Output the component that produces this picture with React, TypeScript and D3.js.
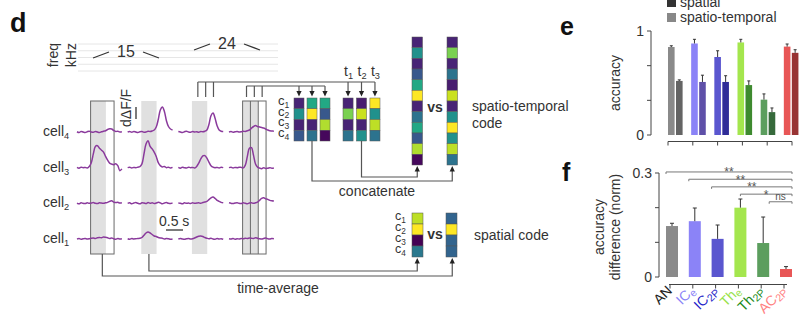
import React from "react";
import * as d3 from "d3";

const FONT = "'Liberation Sans', Arial, Helvetica, sans-serif";
const TXT = "#333333";
const LINE = "#555555";

// ---------------- panel d : stimulus
const freqLabels = ["15", "24"];
const freqLines = [0, 1, 2, 3, 4];

// ---------------- panel d : calcium traces (normalised dF/F), one sample every 0.06 s
const sampleStep = 0.06;
const cellSubscripts = ["4", "3", "2", "1"];
const cell4Traces = [
  [0.01, -0.02, 0.02, 0, -0.02, 0.01, 0.03, 0, -0.01, 0.02, 0, -0.02, 0.01, 0.03, 0.05, 0.1, 0.13, 0.12, 0.06, 0.02, 0.03, 0, 0.01],
  [0, 0.02, -0.01, 0.02, 0, -0.02, 0.01, 0.02, -0.01, 0, 0.03, 0.02, 0.04, 0.08, 0.2, 0.5, 0.88, 1.0, 0.82, 0.45, 0.22, 0.12, 0.08],
  [0.02, 0, -0.02, 0.01, 0.03, 0, -0.01, 0.02, 0, 0.01, -0.01, 0.02, 0.01, 0.03, 0.08, 0.3, 0.65, 0.76, 0.55, 0.25, 0.08, 0.03, 0.02],
  [0, 0.02, -0.01, 0.01, 0.02, 0, 0.01, 0.03, 0.02, 0.05, 0.08, 0.15, 0.22, 0.26, 0.22, 0.2, 0.18, 0.16, 0.12, 0.08, 0.05, 0.04, 0.03],
];
const cell3Traces = [
  [0.01, -0.02, 0.02, 0, 0.01, -0.01, 0.05, 0.2, 0.55, 0.85, 0.88, 0.78, 0.7, 0.62, 0.45, 0.3, 0.18, 0.14, 0.12, 0.16, 0.08, -0.12, -0.05],
  [0, 0.02, -0.01, 0.01, 0, 0.02, 0.04, 0.15, 0.55, 0.95, 1.08, 0.85, 0.75, 0.62, 0.45, 0.2, 0.08, 0.03, 0.05, 0, 0.02, -0.01, 0.01],
  [0.01, -0.02, 0.02, 0, -0.01, 0.02, 0, 0.01, -0.01, 0.05, 0.18, 0.35, 0.47, 0.48, 0.38, 0.22, 0.08, 0.02, 0, 0.01, -0.01, 0.02, 0],
  [0, 0.02, -0.01, 0.01, 0, 0.02, 0.01, -0.01, 0.1, 0.45, 0.78, 0.8, 0.5, 0.15, 0.02, -0.02, -0.04, 0, -0.03, -0.02, 0, -0.02, -0.01],
];
const cell2Traces = [
  [0.01, -0.02, 0.02, 0, -0.01, 0.02, 0, 0.01, 0.03, 0, -0.01, 0.02, 0.01, 0, 0.02, 0.04, 0.08, 0.1, 0.05, 0.03, 0.04, 0.01, 0.02],
  [0, 0.02, -0.02, 0.01, 0.03, 0, -0.02, 0.02, 0.01, -0.01, 0.03, 0, 0.02, -0.01, 0.01, 0.04, 0.02, -0.02, 0.01, 0.03, 0, -0.01, 0.02],
  [0.01, 0, -0.02, 0.02, 0, 0.01, -0.01, 0.02, 0, 0.01, 0.02, 0, 0.03, 0.05, 0.08, 0.15, 0.22, 0.25, 0.2, 0.12, 0.08, 0.04, 0.02],
  [0.02, 0, -0.01, 0.01, 0.02, 0, -0.01, 0.02, 0, -0.02, 0.01, 0.02, 0, 0.02, 0.05, 0.12, 0.2, 0.22, 0.18, 0.16, 0.12, 0.1, 0.09],
];
const cell1Traces = [
  [0, 0.02, -0.01, 0.01, 0.02, 0, 0.01, 0.03, 0.04, 0.02, 0.05, 0.06, 0.05, 0.08, 0.07, 0.05, 0.02, 0.04, 0.01, -0.01, 0.02, 0, 0.01],
  [0.01, -0.01, 0.02, 0, 0.01, 0.02, 0.03, 0.06, 0.15, 0.24, 0.28, 0.24, 0.18, 0.12, 0.1, 0.06, 0.04, 0.03, 0, 0.02, 0.01, -0.01, 0],
  [0, 0.02, 0, -0.01, 0.01, 0.02, 0, 0.01, 0.04, 0.08, 0.11, 0.12, 0.1, 0.06, 0.03, 0.01, 0.03, 0, -0.01, 0.02, 0, 0.01, -0.01],
  [0.01, 0, 0.02, -0.01, 0.01, 0, 0.02, 0.01, 0.03, 0.02, 0.04, 0.03, 0.02, 0.05, 0.03, 0.01, 0, 0.02, 0.04, 0.01, 0, 0.02, 0.01],
];
const allTraces = [cell4Traces, cell3Traces, cell2Traces, cell1Traces];
const stimWindow = [0.4, 0.85]; // s
const binEdges = [0.4, 0.63, 0.86, 1.09]; // s

// ---------------- panel d : population codes (viridis values)
const matrixA = [
  [0.1, 0.5, 0.1, 0.27],
  [0.6, 1.0, 0.1, 0.38],
  [0.6, 0.27, 0.88, 0.02],
];
const matrixB = [
  [0.1, 0.8, 0.1, 0.38],
  [0.08, 0.92, 0.1, 0.5],
  [1.0, 0.5, 0.9, 0.38],
];
const spatialA = [0.9, 1.0, 0.0, 0.4];
const spatialB = [0.32, 1.0, 0.32, 0.32];
const cLabels = ["1", "2", "3", "4"];
const tLabels = ["1", "2", "3"];

// ---------------- panels e, f
const regionMain = ["AN", "IC", "IC", "Th", "Th", "AC"];
const regionSub = ["", "e", "2P", "e", "2P", "2P"];
const regions = regionMain.map((m, i) => m + regionSub[i]);
const spatioTemporalAcc = [0.846, 0.88, 0.75, 0.89, 0.34, 0.85];
const spatioTemporalErr = [0.012, 0.04, 0.06, 0.03, 0.055, 0.025];
const spatialAcc = [0.52, 0.51, 0.51, 0.48, 0.22, 0.79];
const spatialErr = [0.01, 0.065, 0.06, 0.04, 0.04, 0.03];
const lightColors = ["#8a8a8a", "#8b83f7", "#5a56cf", "#a4e64e", "#5c9e5e", "#e85656"];
const darkColors = ["#646464", "#5e50a8", "#2f2c98", "#3e8a2f", "#366a3b", "#983333"];
const labelColors = ["#222222", "#8b83f7", "#1e1ec8", "#98e24a", "#1b8a1b", "#ff8282"];
const accDiff = [0.147, 0.161, 0.11, 0.2, 0.098, 0.023];
const accDiffErr = [0.008, 0.038, 0.04, 0.025, 0.075, 0.007];
const sigFrom = [0, 1, 2, 3, 4];
const sigLevel = [0.303, 0.282, 0.26, 0.239, 0.217];
const sigText = ["**", "**", "**", "*", "ns"];
const sigAnchor = [-1, -1, -1, 0, 1];

const viridis = (v: number) => d3.interpolateViridis(v);

function Sub({ main, sub, x, y, size = 14, fill = TXT, anchor = "start" as const }: any) {
  return (
    <text x={x} y={y} fontSize={size} fill={fill} textAnchor={anchor} fontFamily={FONT}>
      {main}
      {sub ? (
        <tspan fontSize={size * 0.66} dy={size * 0.22}>
          {sub}
        </tspan>
      ) : null}
    </text>
  );
}

const arrowUp = (x: number, tip: number) => `M${x},${tip} l-2.6,5.5 l5.2,0 z`;
const arrowDown = (x: number, tip: number) => `M${x},${tip} l-2.6,-5.5 l5.2,0 z`;

export default function App() {
  // ---------- panel d layout scales
  const trialX = d3.scaleLinear().domain([0, 3]).range([77, 229]);
  const timeX = d3.scaleLinear().domain([0, 1]).range([0, 34]);
  const rowY = d3.scalePoint<string>().domain(cellSubscripts).range([132, 239]);
  const ampY = d3.scaleLinear().domain([0, 1]).range([0, -25]);
  const boxTop = 101;
  const boxBottom = 254;

  const traceLine = (trial: number, base: number) =>
    d3
      .line<number>()
      .x((_, i) => trialX(trial) + timeX(i * sampleStep))
      .y((v) => base + ampY(v))
      .curve(d3.curveCatmullRom.alpha(0.5));

  const freqY = d3.scaleLinear().domain([0, 4]).range([44, 71]);
  const freqX = d3.scaleLinear().domain([0, 1]).range([78, 278]);

  const matAX = d3.scaleBand<number>().domain([0, 1, 2]).range([294, 330]).paddingInner(0.23);
  const matBX = d3.scaleBand<number>().domain([0, 1, 2]).range([343, 380]).paddingInner(0.25);
  const matY = d3.scaleBand<number>().domain([0, 1, 2, 3]).range([98, 141]);
  const vecY = d3.scaleBand<number>().domain(d3.range(12)).range([37, 165]);
  const spY = d3.scaleBand<number>().domain([0, 1, 2, 3]).range([213, 257]);
  const vecAX = 412;
  const vecBX = 447;
  const vecW = 10.5;

  const binCenters = binEdges.slice(0, 3).map((e, i) => (e + binEdges[i + 1]) / 2);
  const group1 = binCenters.map((t) => trialX(2) + timeX(t) + 2);
  const group2 = binCenters.map((t) => trialX(3) + timeX(t));
  const colCenterA = (j: number) => matAX(j)! + matAX.bandwidth() / 2;
  const colCenterB = (j: number) => matBX(j)! + matBX.bandwidth() / 2;

  // ---------- panel e scales
  const xe = d3.scaleBand<string>().domain(regions).range([668, 807]);
  const xeTick = d3.scalePoint<string>().domain(regions).range([668, 792]);
  const ye = d3.scaleLinear().domain([0, 1]).range([135, 31]);
  const eBarW = 6.6;
  const eTicks = d3.range(4).map((i) => i / 3);

  // ---------- panel f scales
  const xf = d3.scalePoint<string>().domain(regions).range([672, 786]);
  const yf = d3.scaleLinear().domain([0, 0.3]).range([277, 173]);
  const fBarW = 12;
  const fTicks = [0, 0.1, 0.2, 0.3];

  const vecA = matrixA.flat();
  const vecB = matrixB.flat();

  return (
    <svg
      width={801}
      height={316}
      style={{ position: "absolute", left: 0, top: 0, background: "#fff" }}
      fontFamily={FONT}
    >
      {/* ================= panel d ================= */}
      <text x={10} y={32} fontSize={27} fontWeight="bold" fill="#111">d</text>

      {/* stimulus */}
      {freqLines.map((i) => (
        <line key={i} x1={freqX(0)} x2={freqX(1)} y1={freqY(i)} y2={freqY(i)} stroke="#e6e6e6" strokeWidth={1} />
      ))}
      <text transform="translate(58,43) rotate(-90)" textAnchor="end" fontSize={14} fill={TXT}>freq</text>
      <text transform="translate(76,43) rotate(-90)" textAnchor="end" fontSize={14} fill={TXT}>kHz</text>
      {freqLabels.map((lab, i) => {
        const cx = i === 0 ? 126 : 227;
        const cy = i === 0 ? 55 : 47;
        return (
          <g key={lab}>
            <text x={cx} y={cy + 2} textAnchor="middle" fontSize={16} fill={TXT}>{lab}</text>
            <line x1={cx - 33} y1={cy + 3} x2={cx - 17} y2={cy - 3} stroke={TXT} strokeWidth={1.2} />
            <line x1={cx + 17} y1={cy - 3} x2={cx + 33} y2={cy + 3} stroke={TXT} strokeWidth={1.2} />
          </g>
        );
      })}

      {/* stimulus shading */}
      {[0, 1, 2, 3].map((trial) => (
        <rect
          key={trial}
          x={trialX(trial) + timeX(stimWindow[0])}
          y={boxTop}
          width={timeX(stimWindow[1]) - timeX(stimWindow[0])}
          height={boxBottom - boxTop}
          fill="#e0e0e0"
        />
      ))}
      {/* time windows */}
      {[0, 3].map((trial) => (
        <rect
          key={trial}
          x={trialX(trial) + timeX(binEdges[0])}
          y={boxTop}
          width={timeX(binEdges[3]) - timeX(binEdges[0])}
          height={boxBottom - boxTop}
          fill="none"
          stroke="#6a6a6a"
          strokeWidth={1}
        />
      ))}
      {[1, 2].map((k) => (
        <line
          key={k}
          x1={trialX(3) + timeX(binEdges[k])}
          x2={trialX(3) + timeX(binEdges[k])}
          y1={boxTop}
          y2={boxBottom}
          stroke="#6a6a6a"
          strokeWidth={1}
        />
      ))}

      {/* traces */}
      {allTraces.map((cellTr, ci) =>
        cellTr.map((tr, ti) => (
          <path
            key={`${ci}-${ti}`}
            d={traceLine(ti, rowY(cellSubscripts[ci])!)(tr) || ""}
            fill="none"
            stroke="#8a3a9c"
            strokeWidth={1.5}
          />
        ))
      )}
      {cellSubscripts.map((s) => (
        <Sub key={s} main="cell" sub={s} x={43} y={rowY(s)! + 4} size={14} />
      ))}

      {/* scale bars */}
      <text transform="translate(131,127) rotate(-90)" fontSize={14} fill={TXT}>dΔF/F</text>
      <line x1={136} x2={136} y1={107} y2={119} stroke={TXT} strokeWidth={1.3} />
      <text x={159} y={226} fontSize={14} fill={TXT}>0.5 s</text>
      <line x1={166} x2={166 + timeX(0.5)} y1={230} y2={230} stroke={TXT} strokeWidth={1.3} />

      {/* top connectors */}
      <path d={`M${group1[0]},82 H${colCenterB(2)}`} fill="none" stroke={LINE} strokeWidth={1.2} />
      {group1.map((x, i) => (
        <line key={i} x1={x} x2={x} y1={82} y2={97} stroke={LINE} strokeWidth={1.2} />
      ))}
      <path d={`M${group2[0]},86 H${colCenterA(2)}`} fill="none" stroke={LINE} strokeWidth={1.2} />
      {group2.map((x, i) => (
        <line key={i} x1={x} x2={x} y1={86} y2={97} stroke={LINE} strokeWidth={1.2} />
      ))}
      {[0, 1, 2].map((j) => (
        <g key={j}>
          <line x1={colCenterA(j)} x2={colCenterA(j)} y1={86} y2={91} stroke={LINE} strokeWidth={1.2} />
          <path d={arrowDown(colCenterA(j), 96.5)} fill="#222" />
          <line x1={colCenterB(j)} x2={colCenterB(j)} y1={82} y2={91} stroke={LINE} strokeWidth={1.2} />
          <path d={arrowDown(colCenterB(j), 96.5)} fill="#222" />
          <Sub main="t" sub={tLabels[j]} x={colCenterB(j) - 4} y={76} size={14} />
        </g>
      ))}

      {/* matrices */}
      {[matrixA, matrixB].map((mat, mi) =>
        mat.map((col, j) =>
          col.map((v, r) => (
            <rect
              key={`${mi}-${j}-${r}`}
              x={(mi === 0 ? matAX(j) : matBX(j))!}
              y={matY(r)!}
              width={mi === 0 ? matAX.bandwidth() : matBX.bandwidth()}
              height={matY.bandwidth()}
              fill={viridis(v)}
              stroke="#555"
              strokeWidth={0.5}
            />
          ))
        )
      )}
      {cLabels.map((c, r) => (
        <Sub key={c} main="c" sub={c} x={278} y={matY(r)! + matY.bandwidth() / 2 + 1.5} size={13} />
      ))}

      {/* spatio-temporal vectors */}
      {[vecA, vecB].map((vec, vi) =>
        vec.map((v, r) => (
          <rect
            key={`${vi}-${r}`}
            x={vi === 0 ? vecAX : vecBX}
            y={vecY(r)!}
            width={vecW}
            height={vecY.bandwidth()}
            fill={viridis(v)}
            stroke="#555"
            strokeWidth={0.5}
          />
        ))
      )}
      <text x={435} y={112} textAnchor="middle" fontSize={14} fontWeight="bold" fill={TXT}>vs</text>
      <text x={472} y={111} fontSize={14} fill={TXT}>spatio-temporal</text>
      <text x={472} y={128} fontSize={14} fill={TXT}>code</text>

      {/* concatenate connectors */}
      <path d={`M${colCenterA(1)},141 V181 H${vecBX + vecW / 2} V171`} fill="none" stroke={LINE} strokeWidth={1.2} />
      <path d={`M${colCenterB(1)},141 V177 H${vecAX + vecW / 2} V171`} fill="none" stroke={LINE} strokeWidth={1.2} />
      <path d={arrowUp(vecAX + vecW / 2, 166)} fill="#222" />
      <path d={arrowUp(vecBX + vecW / 2, 166)} fill="#222" />
      <text x={377} y={196} textAnchor="middle" fontSize={14} fill={TXT}>concatenate</text>

      {/* spatial vectors */}
      {[spatialA, spatialB].map((vec, vi) =>
        vec.map((v, r) => (
          <rect
            key={`s${vi}-${r}`}
            x={vi === 0 ? vecAX : vecBX - 1}
            y={spY(r)!}
            width={vecW + 0.5}
            height={spY.bandwidth()}
            fill={viridis(v)}
            stroke="#555"
            strokeWidth={0.5}
          />
        ))
      )}
      {cLabels.map((c, r) => (
        <Sub key={c} main="c" sub={c} x={395} y={spY(r)! + spY.bandwidth() / 2 + 1.5} size={12.5} />
      ))}
      <text x={435} y={239} textAnchor="middle" fontSize={14} fontWeight="bold" fill={TXT}>vs</text>
      <text x={474} y={240} fontSize={14} fill={TXT}>spatial code</text>

      {/* time-average connectors */}
      <path
        d={`M${trialX(0) + timeX((binEdges[0] + binEdges[3]) / 2)},${boxBottom} V276 H${vecBX + vecW / 2} V263`}
        fill="none"
        stroke={LINE}
        strokeWidth={1.2}
      />
      <path
        d={`M${trialX(1) + timeX((stimWindow[0] + stimWindow[1]) / 2)},${boxBottom} V271 H${vecAX + vecW / 2} V263`}
        fill="none"
        stroke={LINE}
        strokeWidth={1.2}
      />
      <path d={arrowUp(vecAX + vecW / 2, 258)} fill="#222" />
      <path d={arrowUp(vecBX + vecW / 2, 258)} fill="#222" />
      <text x={278} y={293} textAnchor="middle" fontSize={14} fill={TXT}>time-average</text>

      {/* ================= panel e ================= */}
      <text x={560} y={35} fontSize={25} fontWeight="bold" fill="#111">e</text>
      <rect x={667} y={-2} width={9} height={9} fill="#333" />
      <text x={680} y={6.5} fontSize={14} fill={TXT}>spatial</text>
      <rect x={667} y={13} width={9} height={9} fill="#888" />
      <text x={680} y={22} fontSize={14} fill={TXT}>spatio-temporal</text>

      <line x1={651} x2={651} y1={ye(0)} y2={ye(1)} stroke="#444" strokeWidth={1} />
      {eTicks.map((t) => (
        <line key={t} x1={647} x2={651} y1={ye(t)} y2={ye(t)} stroke="#444" strokeWidth={1} />
      ))}
      <text x={644} y={ye(1) + 5} textAnchor="end" fontSize={14} fill={TXT}>1</text>
      <text x={644} y={ye(0) + 5} textAnchor="end" fontSize={14} fill={TXT}>0</text>
      <text transform={`translate(620,${(ye(0) + ye(1)) / 2}) rotate(-90)`} textAnchor="middle" fontSize={14} fill={TXT}>
        accuracy
      </text>
      {regions.map((r, i) => {
        const x1 = xe(r)!;
        const x2 = x1 + 8;
        return (
          <g key={r}>
            <rect x={x1} y={ye(spatioTemporalAcc[i])} width={eBarW} height={ye(0) - ye(spatioTemporalAcc[i])} fill={lightColors[i]} />
            <rect x={x2} y={ye(spatialAcc[i])} width={eBarW} height={ye(0) - ye(spatialAcc[i])} fill={darkColors[i]} />
            <line x1={x1 + eBarW / 2} x2={x1 + eBarW / 2} y1={ye(spatioTemporalAcc[i])} y2={ye(spatioTemporalAcc[i] + spatioTemporalErr[i])} stroke="#333" strokeWidth={1} />
            <line x1={x1 + eBarW / 2 - 1.5} x2={x1 + eBarW / 2 + 1.5} y1={ye(spatioTemporalAcc[i] + spatioTemporalErr[i])} y2={ye(spatioTemporalAcc[i] + spatioTemporalErr[i])} stroke="#333" strokeWidth={1} />
            <line x1={x2 + eBarW / 2} x2={x2 + eBarW / 2} y1={ye(spatialAcc[i])} y2={ye(spatialAcc[i] + spatialErr[i])} stroke="#333" strokeWidth={1} />
            <line x1={x2 + eBarW / 2 - 1.5} x2={x2 + eBarW / 2 + 1.5} y1={ye(spatialAcc[i] + spatialErr[i])} y2={ye(spatialAcc[i] + spatialErr[i])} stroke="#333" strokeWidth={1} />
          </g>
        );
      })}
      <line x1={xeTick(regions[0])!} x2={xeTick(regions[5])!} y1={141.5} y2={141.5} stroke="#444" strokeWidth={1} />
      {regions.map((r) => (
        <line key={r} x1={xeTick(r)!} x2={xeTick(r)!} y1={141.5} y2={145.5} stroke="#444" strokeWidth={1} />
      ))}

      {/* ================= panel f ================= */}
      <text x={562} y={181} fontSize={25} fontWeight="bold" fill="#111">f</text>
      <line x1={659} x2={659} y1={yf(0)} y2={yf(0.3)} stroke="#444" strokeWidth={1} />
      {fTicks.map((t) => (
        <line key={t} x1={655} x2={659} y1={yf(t)} y2={yf(t)} stroke="#444" strokeWidth={1} />
      ))}
      <text x={652} y={yf(0.3) + 5} textAnchor="end" fontSize={14} fill={TXT}>0.3</text>
      <text x={652} y={yf(0) + 5} textAnchor="end" fontSize={14} fill={TXT}>0</text>
      <text transform={`translate(604,227) rotate(-90)`} textAnchor="middle" fontSize={14} fill={TXT}>accuracy</text>
      <text transform={`translate(620,227) rotate(-90)`} textAnchor="middle" fontSize={14} fill={TXT}>difference (norm)</text>

      {regions.map((r, i) => {
        const cx = xf(r)!;
        const top = yf(accDiff[i]);
        const errTop = yf(accDiff[i] + accDiffErr[i]);
        return (
          <g key={r}>
            <rect x={cx - fBarW / 2} y={top} width={fBarW} height={yf(0) - top} fill={lightColors[i]} />
            <line x1={cx} x2={cx} y1={top} y2={errTop} stroke="#333" strokeWidth={1} />
            <line x1={cx - 2} x2={cx + 2} y1={errTop} y2={errTop} stroke="#333" strokeWidth={1} />
          </g>
        );
      })}
      <line x1={xf(regions[0])! - 3} x2={xf(regions[5])! + 1} y1={284.5} y2={284.5} stroke="#444" strokeWidth={1} />
      {regions.map((r) => (
        <line key={r} x1={xf(r)! - 2} x2={xf(r)! - 2} y1={284.5} y2={288.5} stroke="#444" strokeWidth={1} />
      ))}
      {regions.map((r, i) => (
        <text
          key={r}
          transform={`translate(${xf(r)! + 1},291.5) rotate(-45)`}
          textAnchor="end"
          fontSize={14}
          fill={labelColors[i]}
        >
          {regionMain[i]}
          {regionSub[i] ? (
            <tspan fontSize={10.5} dy={2.5}>
              {regionSub[i]}
            </tspan>
          ) : null}
        </text>
      ))}

      {/* significance brackets */}
      {sigFrom.map((from, k) => {
        const x1 = xf(regions[from])! + (sigAnchor[k] * fBarW) / 2;
        const x2 = xf(regions[5])! + fBarW / 2;
        const y = yf(sigLevel[k]);
        return (
          <g key={k}>
            <path d={`M${x1},${y + 2} V${y} H${x2} V${y + 2}`} fill="none" stroke="#777" strokeWidth={1} />
            <text
              x={(x1 + x2) / 2}
              y={sigText[k] === "ns" ? y - 1.5 : y + 4.5}
              textAnchor="middle"
              fontSize={sigText[k] === "ns" ? 10 : 12}
              fill="#555"
            >
              {sigText[k]}
            </text>
          </g>
        );
      })}
    </svg>
  );
}
